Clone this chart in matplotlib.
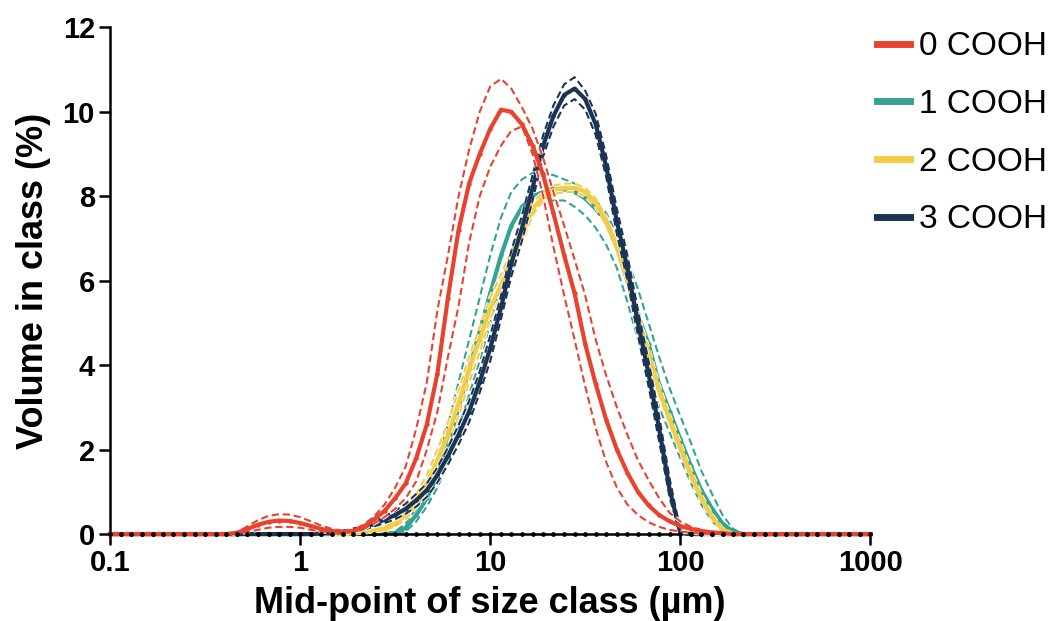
import matplotlib
matplotlib.use("Agg")
import matplotlib.pyplot as plt
import matplotlib.patheffects as pe
from matplotlib.lines import Line2D

plt.rcParams["font.family"] = ["Liberation Sans", "DejaVu Sans"]

# size classes (µm), 18 per decade from 0.1 to 1000
sizes = [
    0.100, 0.114, 0.129, 0.147, 0.167, 0.190, 0.215, 0.245, 0.278,
    0.316, 0.359, 0.408, 0.464, 0.527, 0.599, 0.681, 0.774, 0.880,
    1.00, 1.14, 1.29, 1.47, 1.67, 1.90, 2.15, 2.45, 2.78,
    3.16, 3.59, 4.08, 4.64, 5.27, 5.99, 6.81, 7.74, 8.80,
    10.0, 11.4, 12.9, 14.7, 16.7, 19.0, 21.5, 24.5, 27.8,
    31.6, 35.9, 40.8, 46.4, 52.7, 59.9, 68.1, 77.4, 88.0,
    100, 114, 129, 147, 167, 190, 215, 245, 278,
    316, 359, 408, 464, 527, 599, 681, 774, 880,
    1000,
]

# volume in class (%), nonzero part of each curve; first value sits at sizes[start]
red_start = 12
red_mean = [0.03, 0.12, 0.22, 0.29, 0.32, 0.31, 0.26, 0.19, 0.12, 0.07, 0.05,
            0.07, 0.17, 0.35, 0.55, 0.85, 1.2, 1.8, 2.6, 3.8, 5.6, 7.2, 8.3,
            9.0, 9.6, 10.05, 10.0, 9.7, 9.2, 8.5, 7.6, 6.6, 5.7, 4.5, 3.55,
            2.7, 2.0, 1.45, 1.0, 0.68, 0.45, 0.3, 0.19, 0.12, 0.07, 0.04, 0.02]
red_hi = [0.05, 0.18, 0.33, 0.43, 0.47, 0.46, 0.4, 0.3, 0.2, 0.12, 0.08,
          0.1, 0.22, 0.42, 0.7, 1.1, 1.6, 2.5, 3.6, 5.3, 6.6, 8.0, 9.1,
          10.0, 10.6, 10.78, 10.55, 10.1, 9.6, 8.9, 8.1, 7.3, 6.5, 5.65, 4.6,
          3.75, 3.0, 2.35, 1.75, 1.28, 0.85, 0.5, 0.3, 0.17, 0.1, 0.05, 0.02]
red_lo = [0.01, 0.05, 0.1, 0.15, 0.17, 0.17, 0.15, 0.1, 0.06, 0.04, 0.03,
          0.05, 0.12, 0.25, 0.4, 0.6, 0.85, 1.25, 2.0, 2.9, 4.2, 5.4, 6.9,
          8.0, 8.7, 9.2, 9.55, 9.65, 9.0, 8.0, 6.8, 5.65, 4.6, 3.5, 2.5,
          1.7, 1.1, 0.7, 0.45, 0.28, 0.17, 0.1, 0.06, 0.03, 0.01, 0.0, 0.0]

teal_start = 26
teal_mean = [0.0, 0.03, 0.15, 0.45, 0.85, 1.4, 2.1, 3.0, 3.9, 4.8, 5.7, 6.6,
             7.3, 7.75, 8.0, 8.1, 8.18, 8.18, 8.1, 7.95, 7.7, 7.4, 6.8, 6.0,
             5.2, 4.5, 3.55, 2.9, 2.25, 1.6, 1.04, 0.6, 0.25, 0.05, 0.0]
teal_hi = [0.0, 0.06, 0.25, 0.6, 1.1, 1.75, 2.6, 3.6, 4.6, 5.6, 6.6, 7.5,
           8.1, 8.4, 8.55, 8.55, 8.5, 8.4, 8.3, 8.1, 7.9, 7.6, 7.1, 6.5,
           5.8, 5.0, 4.2, 3.45, 2.8, 2.15, 1.5, 0.95, 0.45, 0.12, 0.0]
teal_lo = [0.0, 0.0, 0.06, 0.3, 0.65, 1.1, 1.7, 2.5, 3.3, 4.1, 5.0, 5.9,
           6.7, 7.3, 7.65, 7.85, 7.9, 7.9, 7.75, 7.55, 7.25, 6.85, 6.3, 5.5,
           4.6, 3.9, 3.0, 2.4, 1.8, 1.2, 0.7, 0.3, 0.08, 0.0, 0.0]

yellow_start = 23
yellow_mean = [0.02, 0.04, 0.08, 0.13, 0.25, 0.45, 0.8, 1.2, 1.75, 2.35, 3.1,
               3.9, 4.6, 5.35, 5.9, 6.45, 7.1, 7.7, 8.0, 8.15, 8.2, 8.2, 8.1,
               7.85, 7.4, 6.8, 6.0, 5.1, 4.3, 3.4, 2.7, 2.05, 1.4, 0.85, 0.4,
               0.1, 0.0]
yellow_hi = [0.03, 0.06, 0.11, 0.18, 0.32, 0.55, 0.95, 1.4, 2.0, 2.65, 3.4,
             4.2, 4.9, 5.6, 6.15, 6.7, 7.3, 7.85, 8.1, 8.25, 8.3, 8.3, 8.2,
             7.95, 7.5, 6.9, 6.1, 5.2, 4.4, 3.5, 2.8, 2.15, 1.5, 0.92, 0.45,
             0.12, 0.0]
yellow_lo = [0.01, 0.03, 0.06, 0.09, 0.18, 0.35, 0.65, 1.0, 1.5, 2.05, 2.8,
             3.6, 4.3, 5.1, 5.65, 6.2, 6.9, 7.55, 7.9, 8.05, 8.1, 8.1, 8.0,
             7.75, 7.3, 6.7, 5.9, 5.0, 4.2, 3.3, 2.6, 1.95, 1.3, 0.78, 0.35,
             0.08, 0.0]

navy_start = 20
navy_mean = [0.01, 0.02, 0.05, 0.09, 0.15, 0.24, 0.34, 0.45, 0.6, 0.8, 1.04,
             1.4, 1.85, 2.35, 2.9, 3.6, 4.4, 5.37, 6.4, 7.25, 8.2, 9.2, 9.9,
             10.4, 10.55, 10.3, 9.7, 8.7, 7.4, 6.3, 5.0, 3.8, 2.5, 1.05, 0.03,
             0.0]
navy_hi = [0.02, 0.04, 0.08, 0.13, 0.2, 0.3, 0.42, 0.55, 0.72, 0.95, 1.2,
           1.58, 2.05, 2.58, 3.15, 3.85, 4.7, 5.65, 6.7, 7.55, 8.5, 9.45,
           10.15, 10.65, 10.82, 10.5, 9.95, 8.95, 7.7, 6.6, 5.3, 4.1, 2.8,
           1.3, 0.1, 0.0]
navy_lo = [0.0, 0.01, 0.03, 0.05, 0.1, 0.18, 0.26, 0.35, 0.48, 0.65, 0.88,
           1.22, 1.65, 2.12, 2.65, 3.35, 4.1, 5.1, 6.1, 6.95, 7.9, 8.95, 9.65,
           10.15, 10.3, 10.05, 9.45, 8.45, 7.1, 6.0, 4.7, 3.5, 2.2, 0.85,
           0.01, 0.0]

labels = ["0 COOH", "1 COOH", "2 COOH", "3 COOH"]
colors = ["#E8432F", "#35A393", "#F2CD45", "#1B3454"]


def full(start, vals):
    out = [0.0] * len(sizes)
    out[start:start + len(vals)] = vals
    return out


series = [
    (red_start, red_mean, red_hi, red_lo),
    (teal_start, teal_mean, teal_hi, teal_lo),
    (yellow_start, yellow_mean, yellow_hi, yellow_lo),
    (navy_start, navy_mean, navy_hi, navy_lo),
]

fig = plt.figure(figsize=(10.6, 6.21), dpi=100)
ax = fig.add_axes([0.104, 0.14, 0.717, 0.816])

# drawing order: teal, yellow, navy, red on top
dash_fx = [pe.Stroke(linewidth=2.8, foreground="white"), pe.Normal()]
for k, z in zip([1, 2, 3, 0], [2, 3, 4, 5]):
    start, mean, hi, lo = series[k]
    for band in (hi, lo):
        ax.plot(sizes, full(start, band), color=colors[k], lw=1.5,
                ls=(0, (3.5, 1.8)), zorder=z, clip_on=False,
                path_effects=dash_fx)
    ax.plot(sizes, full(start, mean), color=colors[k], lw=3.0,
            marker="o", ms=2.2, zorder=z + 0.5, clip_on=False)

# size-class dots along the baseline
ax.plot(sizes, [0.0] * len(sizes), "o", color="black", ms=2.4,
        zorder=8, clip_on=False)

ax.set_xscale("log")
ax.set_xlim(0.1, 1000)
ax.set_ylim(0, 12)
ax.set_xticks([0.1, 1, 10, 100, 1000])
ax.set_xticklabels(["0.1", "1", "10", "100", "1000"], fontweight="bold")
ax.set_yticks(range(0, 13, 2))
ax.set_yticklabels([str(v) for v in range(0, 13, 2)], fontweight="bold")
ax.minorticks_off()
ax.tick_params(axis="both", direction="out", length=8, width=1.8,
               labelsize=21, pad=3)

for side in ("top", "right"):
    ax.spines[side].set_visible(False)
for side in ("left", "bottom"):
    ax.spines[side].set_linewidth(1.8)

ax.set_xlabel("Mid-point of size class (µm)", fontsize=26, fontweight="bold",
              labelpad=6)
ax.set_ylabel("Volume in class (%)", fontsize=26, fontweight="bold",
              labelpad=8)

handles = [Line2D([], [], color=c, lw=5) for c in colors]
ax.legend(handles, labels, loc="upper left", bbox_to_anchor=(1.009, 0.992),
          frameon=False, fontsize=24, handlelength=1.0, handletextpad=0.25,
          labelspacing=0.8, borderaxespad=0, borderpad=0)

fig.savefig("out.png", dpi=100)
